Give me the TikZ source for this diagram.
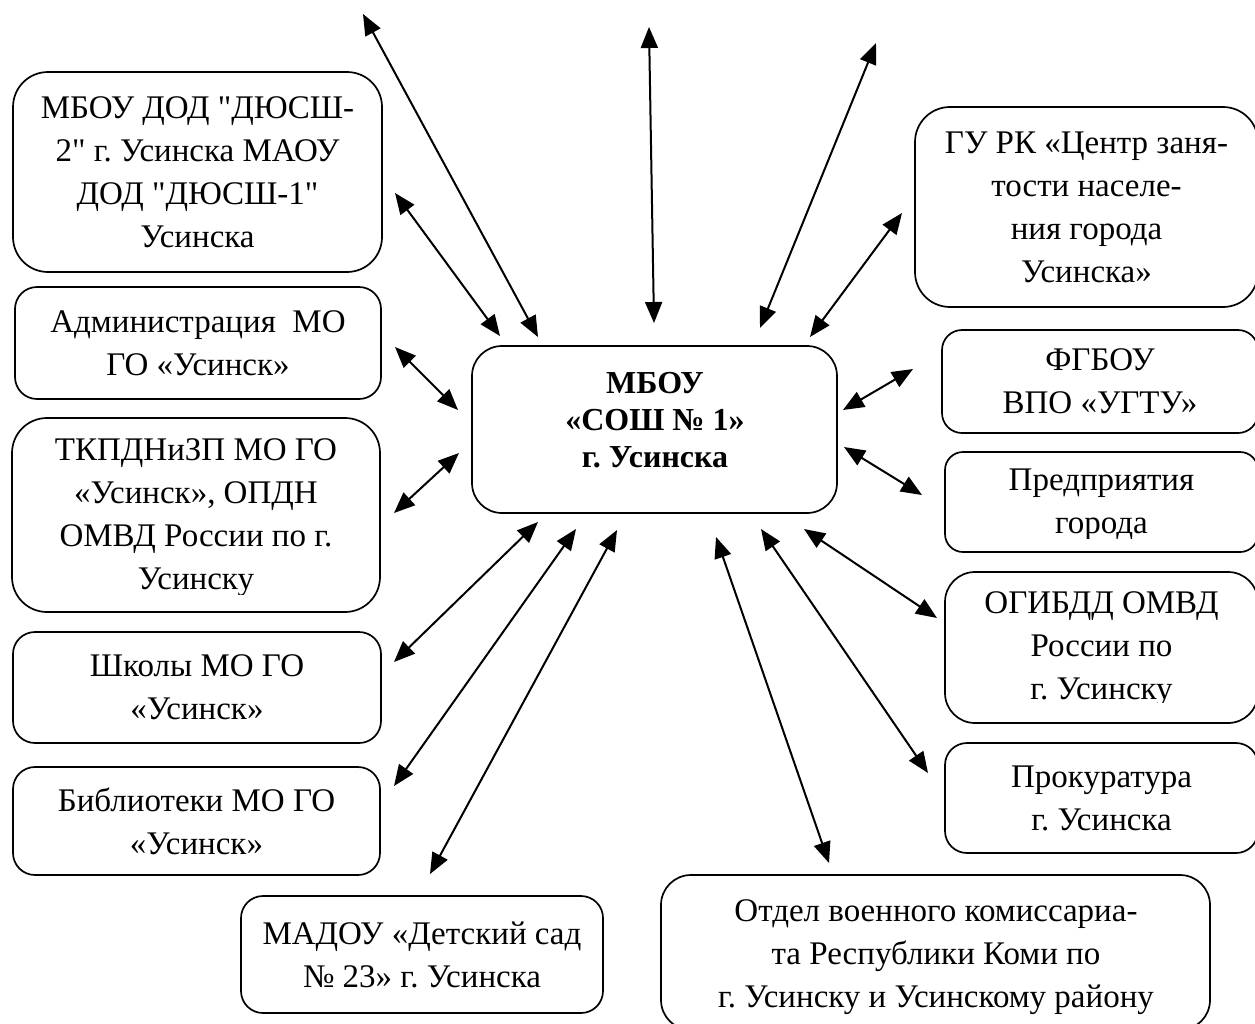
\documentclass[tikz,border=0pt]{standalone}
\usepackage{fontspec}
\setmainfont{Liberation Serif}[Ligatures=TeXOff]
\frenchspacing
\usetikzlibrary{arrows.meta}
\tikzset{
  box/.style={draw, line width=1.7pt, inner sep=0pt, align=center,
    font=\fontsize{33}{43}\selectfont},
  txt/.style={inner sep=0pt, align=center, font=\fontsize{33}{43}\selectfont},
  arr/.style={line width=2pt,
    {Triangle[length=21pt,width=17pt]}-{Triangle[length=21pt,width=17pt]}}
}
\begin{document}
\frenchspacing
\begin{tikzpicture}[x=1pt,y=-1pt]
\useasboundingbox (0,0) rectangle (1255,1023);

% central box
\node[box, rounded corners=30pt, minimum width=365pt, minimum height=167pt] (center) at (654.5,429.5) {};
\node[txt, font=\fontsize{32}{37}\selectfont\bfseries] (centertxt) at (655,420.5)
  {МБОУ\\«СОШ № 1»\\г. Усинска};

% left column
\node[box, rounded corners=35pt, minimum width=369pt, minimum height=200pt] (dod) at (197.5,172)
  {МБОУ ДОД "ДЮСШ-\\2" г. Усинска МАОУ\\ДОД "ДЮСШ-1"\\Усинска};
\node[box, rounded corners=22pt, minimum width=366pt, minimum height=112pt] (adm) at (198,343)
  {Администрация~ МО\\ГО «Усинск»};
\node[box, rounded corners=35pt, minimum width=368pt, minimum height=194pt] (tkp) at (196,515) {};
\begin{scope}
  \clip (12,418) rectangle (380,594);
  \node[txt] (tkptxt) at (196,518) {ТКПДНиЗП МО ГО\\«Усинск», ОПДН\\ОМВД России по г.\\Усинску};
\end{scope}
\node[box, rounded corners=22pt, minimum width=368pt, minimum height=111pt] (sch) at (197,687.5)
  {Школы МО ГО\\«Усинск»};
\node[box, rounded corners=22pt, minimum width=367pt, minimum height=108pt] (lib) at (196.5,821)
  {Библиотеки МО ГО\\«Усинск»};

% bottom
\node[box, rounded corners=22pt, minimum width=362pt, minimum height=117pt] (mad) at (422,954.5)
  {МАДОУ «Детский сад\\№ 23» г. Усинска};
\node[box, rounded corners=30pt, minimum width=549pt, minimum height=155pt] (otd) at (935.5,952.5) {};
\node[txt] (otdtxt) at (936,957)
  {Отдел военного комиссариа-\\та Республики Коми по\\г. Усинску и Усинскому району};

% right column
\node[box, rounded corners=35pt, minimum width=343pt, minimum height=200pt] (gu) at (1086.5,207)
  {ГУ РК «Центр заня-\\тости населе-\\ния города\\Усинска»};
\node[box, rounded corners=20pt, minimum width=316pt, minimum height=103pt] (fg) at (1100,381.5)
  {ФГБОУ\\ВПО «УГТУ»};
\node[box, rounded corners=18pt, minimum width=313pt, minimum height=100pt] (pr) at (1101.5,502) {};
\begin{scope}
  \clip (945,452) rectangle (1258,538);
  \node[txt] (prtxt) at (1101.5,505) {Предприятия\\города};
\end{scope}
\node[box, rounded corners=30pt, minimum width=313pt, minimum height=151pt] (og) at (1101.5,647.5) {};
\begin{scope}
  \clip (945,572) rectangle (1258,702);
  \node[txt] (ogtxt) at (1101.5,649) {ОГИБДД ОМВД\\России по\\г. Усинску};
\end{scope}
\node[box, rounded corners=22pt, minimum width=313pt, minimum height=110pt] (pk) at (1101.5,798)
  {Прокуратура\\г. Усинска};

% arrow end points
\coordinate (a1s) at (363,14);   \coordinate (a1e) at (538,337);
\coordinate (a2s) at (649,27);   \coordinate (a2e) at (654,323);
\coordinate (a3s) at (876,43);   \coordinate (a3e) at (760,328);
\coordinate (a4s) at (395,193);  \coordinate (a4e) at (500,336);
\coordinate (a5s) at (395,347);  \coordinate (a5e) at (458,410);
\coordinate (a6s) at (394,513);  \coordinate (a6e) at (459,453);
\coordinate (a7s) at (394,662);  \coordinate (a7e) at (538,522);
\coordinate (a8s) at (394,786);  \coordinate (a8e) at (576,529);
\coordinate (a9s) at (430,874);  \coordinate (a9e) at (617,530);
\coordinate (a10s) at (902,213); \coordinate (a10e) at (810,337);
\coordinate (a11s) at (913,369); \coordinate (a11e) at (843,410);
\coordinate (a12s) at (922,495); \coordinate (a12e) at (844,447);
\coordinate (a13s) at (937,618); \coordinate (a13e) at (804,529);
\coordinate (a14s) at (928,773); \coordinate (a14e) at (761,529);
\coordinate (a15s) at (829,863); \coordinate (a15e) at (716,537);

\foreach \i in {1,...,15} \draw[arr] (a\i s) -- (a\i e);
\end{tikzpicture}
\end{document}
